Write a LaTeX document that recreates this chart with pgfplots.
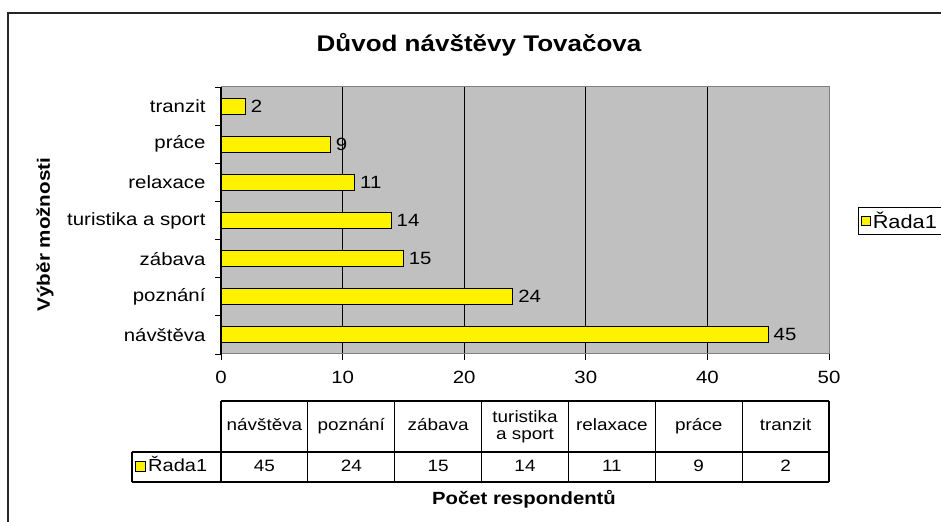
\documentclass[border=0pt]{standalone}
\usepackage{fontspec}
\setmainfont{Liberation Sans}[FakeStretch=1.15]
\usepackage{pgfplots}
\pgfplotsset{compat=1.18}
\definecolor{plotgray}{RGB}{192,192,192}
\definecolor{bordergray}{RGB}{128,128,128}
\newcommand{\fs}[1]{\fontsize{#1}{#1}\selectfont}
\pgfplotstableread{
idx value
0 45
1 24
2 15
3 14
4 11
5 9
6 2
}\datatab
\begin{document}
\begin{tikzpicture}[x=1bp,y=1bp]
\path[use as bounding box] (0,0) rectangle (941,522);
\draw[line width=2bp, black!85] (8,-10) -- (8,509) -- (960,509);
\node[font=\bfseries\fs{22.7}, anchor=base] at (479,470) {Důvod návštěvy Tovačova};
\node[font=\bfseries\fs{17.7}, anchor=base] at (524,17) {Počet respondentů};
\node[font=\bfseries\fs{18}, rotate=90, anchor=center] at (45,287.5) {Výběr možnosti};
\begin{axis}[
  at={(221bp,168bp)}, anchor=south west,
  width=608bp, height=267bp, scale only axis,
  xmin=0, xmax=50, ymin=-0.5, ymax=6.5,
  xbar, bar width=16bp,
  axis background/.style={fill=plotgray},
  axis line style={bordergray, line width=1bp},
  xtick={0,10,...,50},
  xmajorgrids, major grid style={black, line width=0.9bp},
  xtick align=outside, ytick align=outside,
  tick pos=left,
  major tick length=6bp,
  x tick style={black, line width=0.9bp},
  ytick={0,...,6},
  y tick style={draw=none},
  minor ytick={-0.5,0.5,...,6.5},
  minor y tick style={draw=black, line width=0.9bp},
  minor tick length=6bp,
  yticklabels={návštěva,poznání,zábava,turistika a sport,relaxace,práce,tranzit},
  yticklabel style={font=\fs{17.8}, anchor=east, xshift=-6bp},
  xticklabel style={font=\fs{17.8}, yshift=-8bp},
  /pgf/number format/assume math mode=true,
  nodes near coords,
  every node near coord/.style={anchor=west, font=\fs{17.8}, inner sep=0pt, xshift=5bp, black},
  legend style={at={(1.0477,0.497)}, anchor=west, draw=black, line width=0.9bp, font=\fs{19}, inner sep=2.5bp, row sep=0pt},
  legend cell align=left,
  legend image code/.code={\draw[fill=yellow, draw=black, line width=0.8bp] (0bp,-4.5bp) rectangle (9bp,4.5bp);},
  clip=false,
]
\addplot[fill=yellow, draw=black, line width=0.9bp] table[x=value, y=idx] {\datatab};
\addlegendentry{Řada1}
\draw[black, line width=1.2bp] (rel axis cs:0,0) -- (rel axis cs:0,1);
\draw[bordergray, line width=1bp] (rel axis cs:1,0) -- (rel axis cs:1,1);
\end{axis}
% data table
\begin{scope}[line width=1.1bp, black]
\draw (221,121) -- (829,121);
\draw (132,70) -- (829,70);
\draw (132,40) -- (829,40);
\draw (132,70) -- (132,40);
\foreach \k in {0,...,7} {\draw ({221+\k*86.857},121) -- ({221+\k*86.857},40);}
\end{scope}
\foreach \k/\t in {0/návštěva,1/poznání,2/zábava,4/relaxace,5/práce,6/tranzit}
  {\node[font=\fs{16.5}, anchor=center, text height=12bp, text depth=3bp, inner sep=0pt] at ({221+(\k+0.5)*86.857},95.5) {\t};}
\node[font=\fs{16.5}, align=center, inner sep=0pt] at ({221+3.5*86.857},95.5) {turistika\\[1bp]a sport};
\foreach \k/\t in {0/45,1/24,2/15,3/14,4/11,5/9,6/2}
  {\node[font=\fs{16.5}, anchor=center, text height=12bp, text depth=3bp, inner sep=0pt] at ({221+(\k+0.5)*86.857},55) {\t};}
\draw[fill=yellow, draw=black, line width=0.8bp] (135,50.5) rectangle (145,60.5);
\node[font=\fs{17.5}, anchor=west, text height=12bp, text depth=3bp, inner sep=0pt] at (148,55) {Řada1};
\end{tikzpicture}
\end{document}
